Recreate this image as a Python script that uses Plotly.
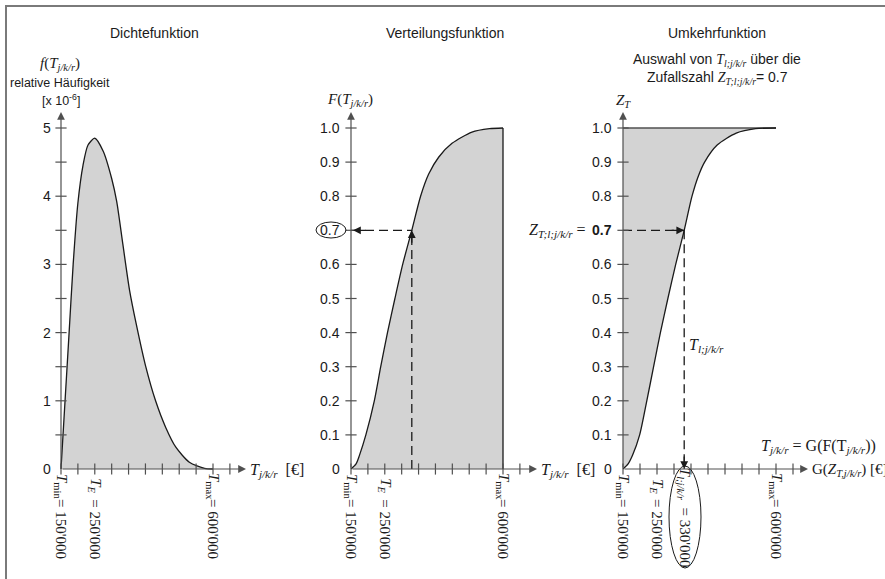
import plotly.graph_objects as go

W, H = 885, 579

# ---------------- data ----------------
T_MIN = 150000
T_E = 250000
T_MAX = 600000
T_SEL = 330000
Z_SEL = 0.7

x_tick_values = [150000, 200000, 250000, 300000, 350000, 400000,
                 450000, 500000, 550000, 600000, 650000]
density_tick_values = [0.5, 1, 1.5, 2, 2.5, 3, 3.5, 4, 4.5, 5]
density_label_values = [0, 1, 2, 3, 4, 5]
density_tick_labels = ["0", "1", "2", "3", "4", "5"]
prob_tick_values = [0.1, 0.2, 0.3, 0.4, 0.5, 0.6, 0.7, 0.8, 0.9, 1.0]
prob_label_values = [0, 0.1, 0.2, 0.3, 0.4, 0.5, 0.6, 0.7, 0.8, 0.9, 1.0]
prob_tick_labels = ["0", "0.1", "0.2", "0.3", "0.4", "0.5", "0.6", "0.7", "0.8", "0.9", "1.0"]

special_T = [T_MIN, T_E, T_MAX]
special_names = ["min", "<i>E</i>", "max"]
special_values = ["150'000", "250'000", "600'000"]
sel_value_label = "330'000"

# density (x 10^-6)
density_T = [150000, 162000, 174000, 186000, 200000, 215000, 230000, 250000,
             275000, 300000, 315000, 333000, 353000, 373000, 400000, 430000,
             460000, 490000, 530000, 575000, 600000]
density_values = [0, 1.0, 2.0, 3.0, 3.9, 4.45, 4.75, 4.85,
                  4.66, 4.26, 3.92, 3.30, 2.62, 2.12, 1.52, 1.00,
                  0.61, 0.32, 0.10, 0.01, 0]

# distribution function (panel 2)
cdf_T = [150000, 165000, 175000, 194000, 219000, 238000, 258000, 280000,
         303000, 330000, 356000, 380000, 410000, 449000, 508000, 560000, 600000]
cdf_values = [0, 0.015, 0.04, 0.1, 0.2, 0.3, 0.4, 0.5,
              0.6, 0.7, 0.8, 0.865, 0.915, 0.955, 0.988, 0.998, 1.0]

# inverse function view (panel 3)
inv_T = [150000, 165000, 178000, 199000, 220000, 240000, 260000, 282000,
         305000, 330000, 353000, 372000, 390000, 427000, 483000, 540000, 600000]
inv_values = [0, 0.015, 0.04, 0.1, 0.2, 0.3, 0.4, 0.5,
              0.6, 0.7, 0.8, 0.86, 0.9, 0.95, 0.985, 0.998, 1.0]

# ---------------- styling / layout ----------------
SANS = "Liberation Sans, Arial, sans-serif"
SERIF = "Liberation Serif, Times New Roman, serif"
AXC = "#505050"
INK = "#1a1a1a"
FILL = "#d3d3d3"

panels = [
    dict(dom=(0, 295), px=(61, 213), py=(469, 128), ytop=5.0, xend=246, yend=112),
    dict(dom=(295, 590), px=(351, 503), py=(469, 128), ytop=1.0, xend=537, yend=112),
    dict(dom=(590, 885), px=(623, 776), py=(469, 128), ytop=1.0, xend=808, yend=112),
]


def X(i, px):
    p = panels[i]
    k = (T_MAX - T_MIN) / (p['px'][1] - p['px'][0])
    return T_MIN + (px - p['px'][0]) * k


def Y(i, py):
    p = panels[i]
    k = p['ytop'] / (p['py'][0] - p['py'][1])
    return (p['py'][0] - py) * k


def PX(px):
    return px / W


def PY(py):
    return 1 - py / H


def serif(s):
    return f"<span style='font-family:{SERIF}'>{s}</span>"


fig = go.Figure()
layout = dict(width=W, height=H, margin=dict(l=0, r=0, t=0, b=0),
              paper_bgcolor="white", plot_bgcolor="white",
              showlegend=False, hovermode=False)
for i, p in enumerate(panels):
    sx = "" if i == 0 else str(i + 1)
    layout["xaxis" + sx] = dict(domain=[p['dom'][0] / W, p['dom'][1] / W],
                                range=[X(i, p['dom'][0]), X(i, p['dom'][1])],
                                visible=False, fixedrange=True, anchor="y" + sx)
    layout["yaxis" + sx] = dict(domain=[0, 1], range=[Y(i, H), Y(i, 0)],
                                visible=False, fixedrange=True, anchor="x" + sx)
fig.update_layout(**layout)

refs = [("x", "y"), ("x2", "y2"), ("x3", "y3")]
curve_line = dict(color=INK, width=1.3, shape="spline", smoothing=0.7)

# panel 1 density
fig.add_trace(go.Scatter(x=density_T, y=density_values, mode="lines",
                         line=curve_line, fill="tozeroy", fillcolor=FILL,
                         xaxis="x", yaxis="y"))
# panel 2 CDF
fig.add_trace(go.Scatter(x=cdf_T, y=cdf_values, mode="lines",
                         line=curve_line, fill="tozeroy", fillcolor=FILL,
                         xaxis="x2", yaxis="y2"))
fig.add_trace(go.Scatter(x=[T_MAX, T_MAX], y=[0, cdf_values[-1]], mode="lines",
                         line=dict(color=INK, width=1.3), xaxis="x2", yaxis="y2"))
# panel 3 inverse
fig.add_trace(go.Scatter(x=[T_MIN, T_MAX], y=[1.0, 1.0], mode="lines",
                         line=dict(color=AXC, width=1.3), xaxis="x3", yaxis="y3"))
fig.add_trace(go.Scatter(x=inv_T, y=inv_values, mode="lines",
                         line=curve_line, fill="tonexty", fillcolor=FILL,
                         xaxis="x3", yaxis="y3"))

# dashed guide lines
dash = dict(color=INK, width=1.3, dash="9px,5px")
fig.add_trace(go.Scatter(x=[T_SEL, T_SEL], y=[0, Z_SEL], mode="lines", line=dash,
                         xaxis="x2", yaxis="y2"))
fig.add_trace(go.Scatter(x=[T_MIN, T_SEL], y=[Z_SEL, Z_SEL], mode="lines", line=dash,
                         xaxis="x2", yaxis="y2"))
fig.add_trace(go.Scatter(x=[T_MIN, T_SEL], y=[Z_SEL, Z_SEL], mode="lines", line=dash,
                         xaxis="x3", yaxis="y3"))
fig.add_trace(go.Scatter(x=[T_SEL, T_SEL], y=[Z_SEL, 0], mode="lines", line=dash,
                         xaxis="x3", yaxis="y3"))

# ticks
for i, (xr, yr) in enumerate(refs):
    fig.add_trace(go.Scatter(x=x_tick_values, y=[0] * len(x_tick_values), mode="markers",
                             marker=dict(symbol="line-ns", size=8,
                                         line=dict(width=1.2, color=AXC)),
                             xaxis=xr, yaxis=yr))
    yt = density_tick_values if i == 0 else prob_tick_values
    fig.add_trace(go.Scatter(x=[T_MIN] * len(yt), y=yt, mode="markers",
                             marker=dict(symbol="line-ew", size=8,
                                         line=dict(width=1.2, color=AXC)),
                             xaxis=xr, yaxis=yr))

ann = []
arrow = dict(showarrow=True, arrowhead=2, arrowsize=1.3, arrowwidth=1.2, text="")

# axis lines with arrows
for i, (xr, yr) in enumerate(refs):
    p = panels[i]
    ann.append(dict(arrow, x=X(i, p['xend']), y=0, ax=T_MIN, ay=0,
                    xref=xr, yref=yr, axref=xr, ayref=yr, arrowcolor=AXC))
    ann.append(dict(arrow, x=T_MIN, y=Y(i, p['yend']), ax=T_MIN, ay=0,
                    xref=xr, yref=yr, axref=xr, ayref=yr, arrowcolor=AXC))

# guide arrowheads
ann.append(dict(arrow, x=T_SEL, y=Z_SEL, ax=0, ay=14, xref="x2", yref="y2", arrowcolor=INK))
ann.append(dict(arrow, x=X(1, 353), y=Z_SEL, ax=14, ay=0, xref="x2", yref="y2", arrowcolor=INK))
ann.append(dict(arrow, x=T_SEL, y=Z_SEL, ax=-14, ay=0, xref="x3", yref="y3", arrowcolor=INK))
ann.append(dict(arrow, x=T_SEL, y=0, ax=0, ay=-14, xref="x3", yref="y3", arrowcolor=INK))

# y tick labels
tick_font = dict(family=SANS, size=14, color=INK)
for v, t in zip(density_label_values, density_tick_labels):
    ann.append(dict(x=T_MIN, y=v, xref="x", yref="y", text=t, showarrow=False,
                    xanchor="right", yanchor="middle", xshift=-8, font=tick_font))
for i in (1, 2):
    xr, yr = refs[i]
    for v, t in zip(prob_label_values, prob_tick_labels):
        txt = t
        if i == 2 and abs(v - Z_SEL) < 1e-9:
            txt = f"<b>{t}</b>"
        ann.append(dict(x=T_MIN, y=v, xref=xr, yref=yr, text=txt, showarrow=False,
                        xanchor="right", yanchor="middle", xshift=-9, font=tick_font))

# rotated x labels
rot_font = dict(family=SERIF, size=15, color=INK)
for i, (xr, yr) in enumerate(refs):
    for tv, nm, val in zip(special_T, special_names, special_values):
        ann.append(dict(x=tv, y=PY(486), xref=xr, yref="paper",
                        text=f"<i>T</i><sub>{nm}</sub>", textangle=90, showarrow=False,
                        xanchor="center", yanchor="middle", font=rot_font))
        ann.append(dict(x=tv, y=PY(529), xref=xr, yref="paper",
                        text=f"= {val}", textangle=90, showarrow=False,
                        xanchor="center", yanchor="middle", font=rot_font))
ann.append(dict(x=T_SEL, y=PY(518), xref="x3", yref="paper",
                text=f"<i>T</i><sub><i>l;j/k/r</i></sub>  = {sel_value_label}",
                textangle=90, showarrow=False, xanchor="center", yanchor="middle",
                font=rot_font))


def txt(px, py, s, font, xa="center", ya="middle"):
    ann.append(dict(x=PX(px), y=PY(py), xref="paper", yref="paper", text=s,
                    showarrow=False, xanchor=xa, yanchor=ya, font=font))


title_font = dict(family=SANS, size=14, color=INK)
small_font = dict(family=SANS, size=12.5, color=INK)
math_font = dict(family=SERIF, size=15, color=INK)
TJ = "<i>T</i><sub><i>j/k/r</i></sub>"

txt(154, 33, "Dichtefunktion", title_font)
txt(445, 33, "Verteilungsfunktion", title_font)
txt(717, 33, "Umkehrfunktion", title_font)
txt(717, 60, "Auswahl von " + serif("<i>T</i><sub><i>l;j/k/r</i></sub>") + " über die", title_font)
txt(717, 78, "Zufallszahl " + serif("<i>Z</i><sub><i>T;l;j/k/r</i></sub>") + "= 0.7", title_font)

txt(60, 64, f"<i>f</i>({TJ})", math_font)
txt(60, 83, "relative Häufigkeit", small_font)
txt(61, 100, "[x 10<sup>-6</sup>]", small_font)
txt(350, 100, f"<i>F</i>({TJ})", math_font)
txt(623, 101, "<i>Z</i><sub><i>T</i></sub>", math_font)

txt(248, 470, f"{TJ}  [€]", dict(math_font, size=16), xa="left")
txt(539, 470, f"{TJ}  [€]", dict(math_font, size=16), xa="left")
txt(810, 470, "G(<i>Z</i><sub><i>T,j/k/r</i></sub>) [€]", math_font, xa="left")
txt(878, 446, f"{TJ} = G(F(T<sub><i>j/k/r</i></sub>))", dict(math_font, size=16), xa="right")
txt(687, 345, "<i>T</i><sub><i>l;j/k/r</i></sub>", dict(math_font, size=16), xa="left")
txt(588, 231, "<i>Z</i><sub><i>T;l;j/k/r</i></sub> =", dict(math_font, size=16), xa="right")

fig.update_layout(annotations=ann)

# shapes: frame and ellipses
fig.update_layout(shapes=[
    dict(type="rect", xref="paper", yref="paper", x0=PX(6), y0=PY(6), x1=1.05, y1=-0.05,
         line=dict(color="#7a7a7a", width=2)),
    dict(type="circle", xref="paper", yref="paper", x0=PX(316), x1=PX(346),
         y0=PY(222), y1=PY(238), line=dict(color=INK, width=1)),
    dict(type="circle", xref="paper", yref="paper", x0=PX(669), x1=PX(701),
         y0=PY(466), y1=PY(568), line=dict(color=INK, width=1)),
])

fig.write_html("out.html", config={"displayModeBar": False},
               post_script="document.body.style.margin='0';document.body.style.overflow='hidden';")
